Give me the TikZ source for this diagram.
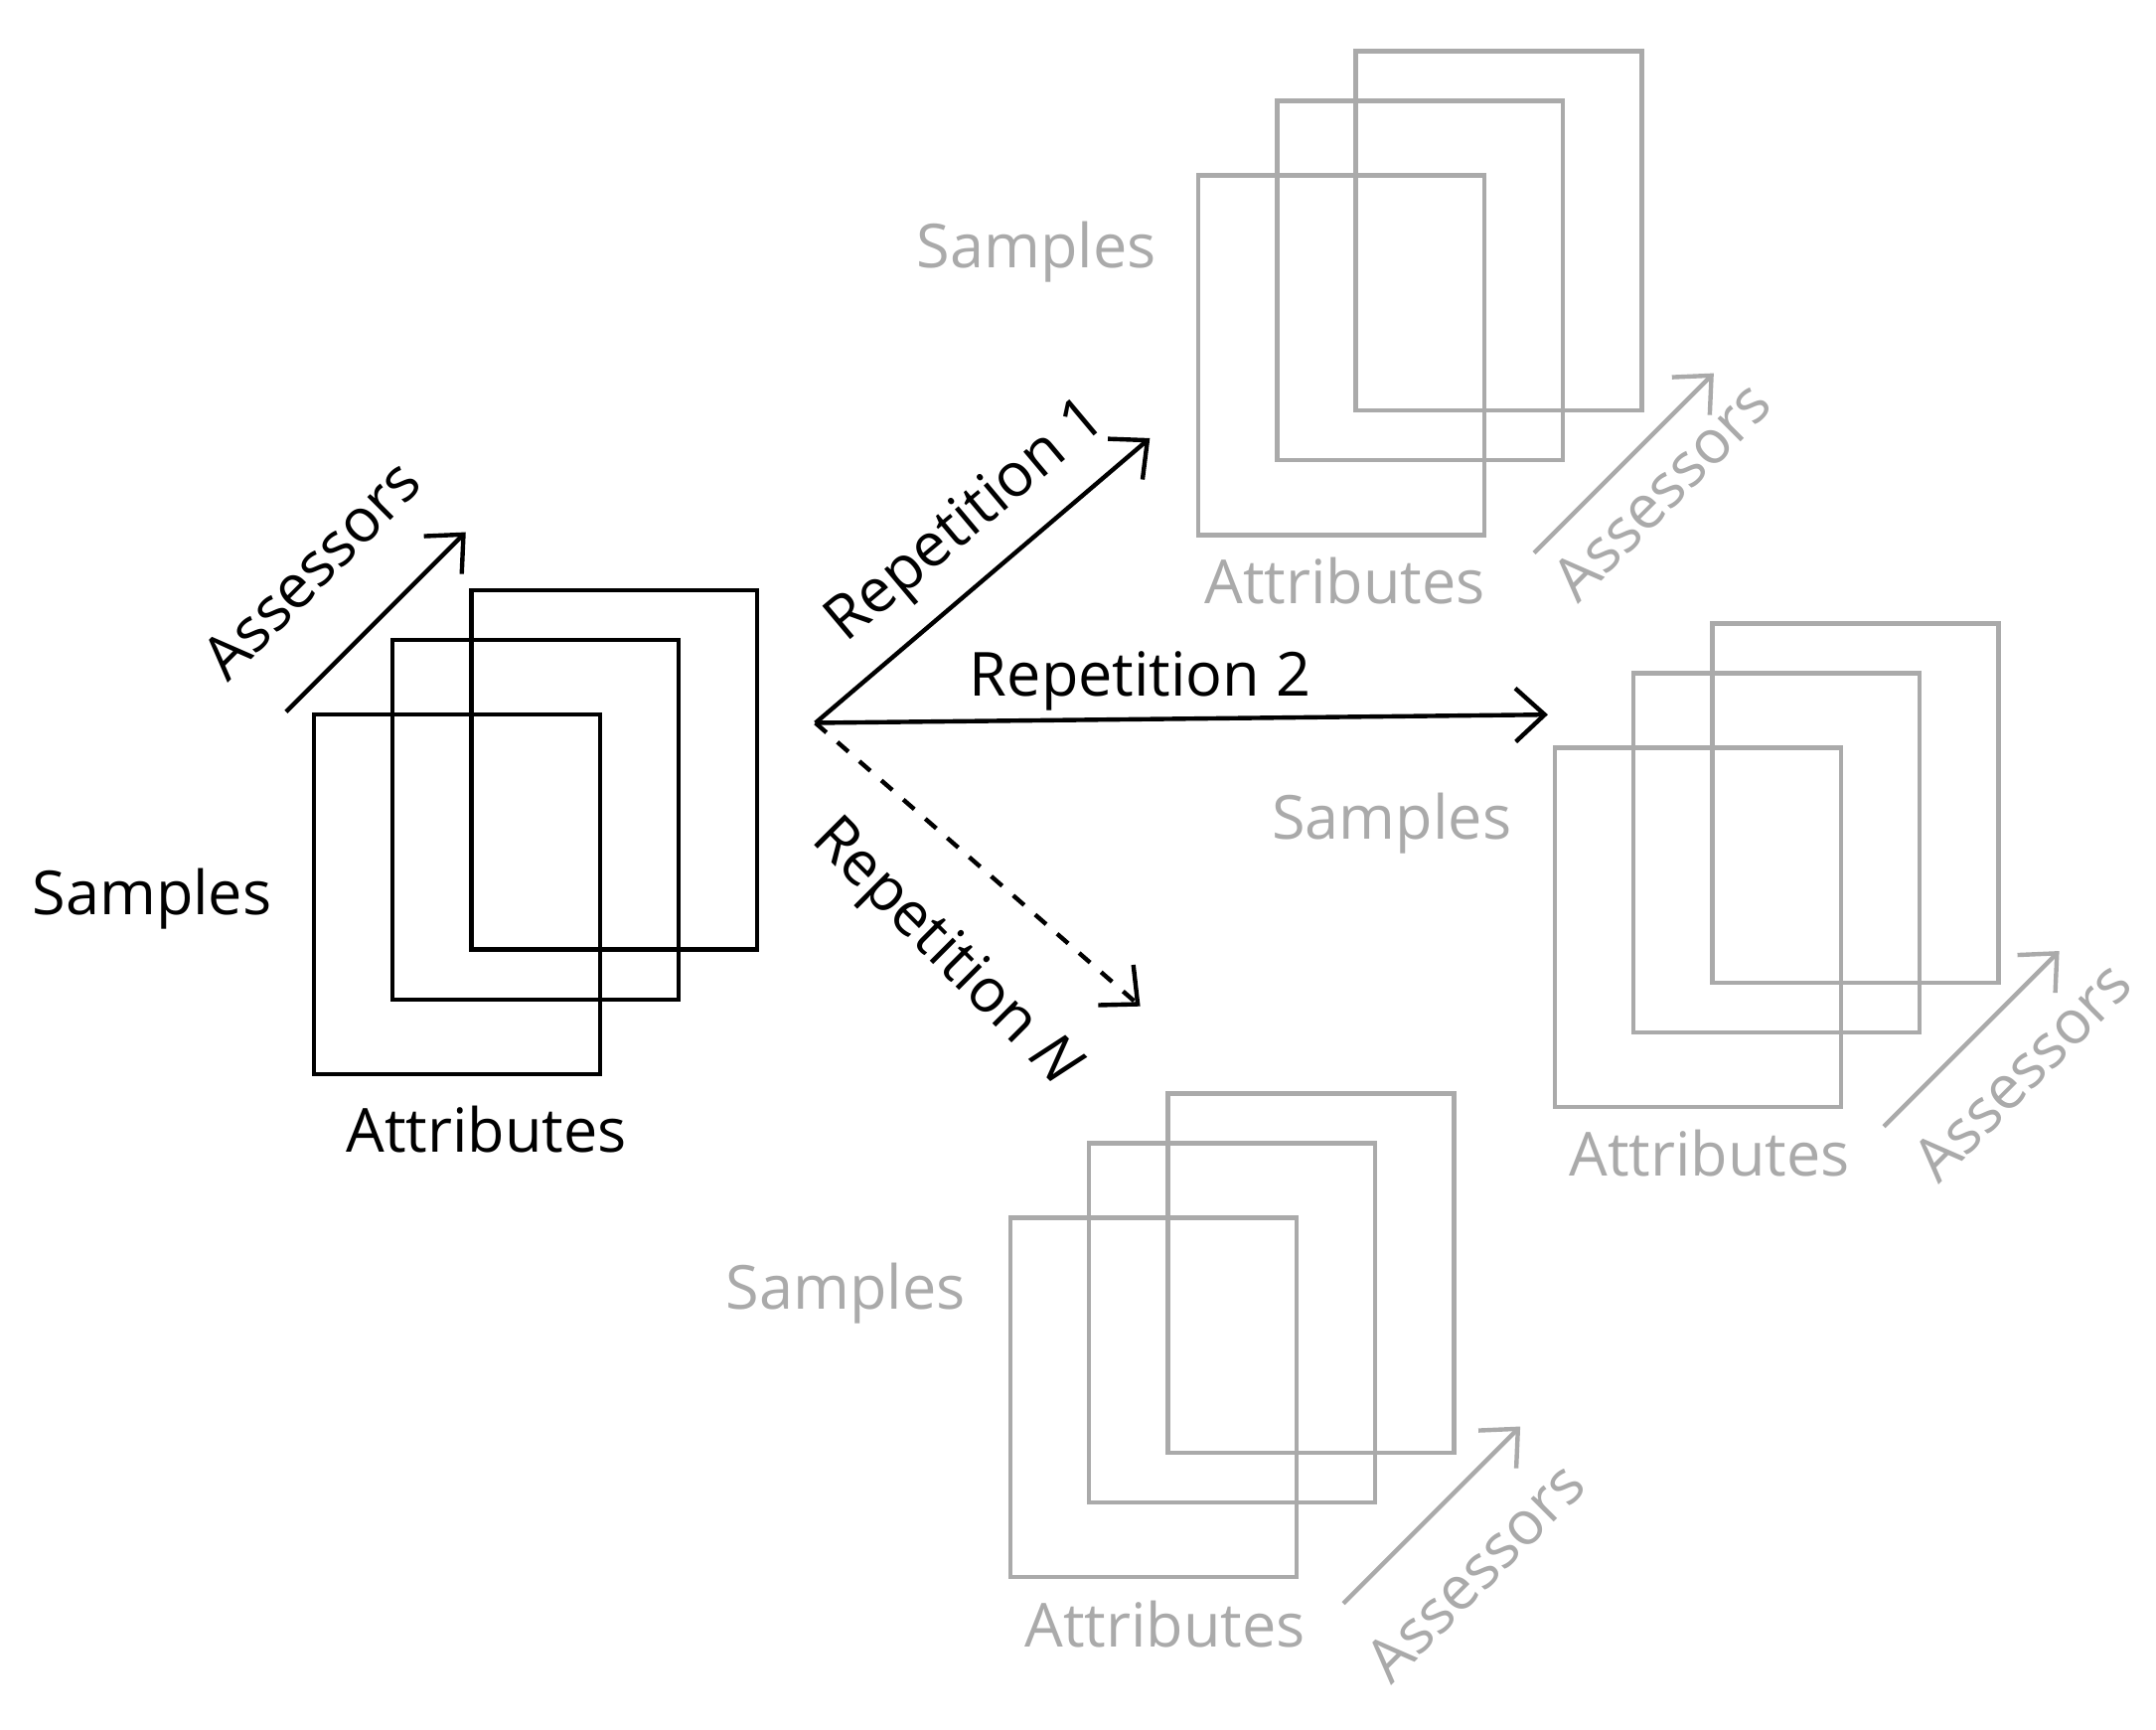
\documentclass[tikz,border=0pt]{standalone}
\usepackage{fontspec}
\setmainfont{Open Sans}
\usetikzlibrary{positioning,arrows.meta}
\tikzset{
  lbl/.style={font=\fontsize{12.5}{15}\selectfont, inner sep=1pt},
  con/.style={-{Straight Barb[length=6pt,width=11pt]}, line width=0.9pt},
  sheet/.style={line width=0.9pt},
}
% one stack of three sheets; #1 name, (#2,#3) top left corner of front sheet, #4 colour
\newcommand{\sheetstack}[4]{%
  \foreach \dx/\dy/\k in {114/-90/c, 57/-54/b, 0/0/a}
    \draw [sheet, #4] (#2+\dx, #3+\dy) rectangle ++(207,260)
      coordinate (#1\k);
}
\begin{document}
\begin{tikzpicture}[x=0.01cm, y=-0.01cm]
\useasboundingbox (0,0) rectangle (1560,1251);
\definecolor{gr}{RGB}{170,170,170}
% source
\sheetstack{src}{227}{517}{black}
\node [lbl] (srcatt) at (352,817) {Attributes};
\node [lbl] (srcsam) at (110,650) {Samples};
\coordinate (srcas1) at (207,515); \coordinate (srcas2) at (337,385);
\draw [con] (srcas1) -- (srcas2);
\node [lbl, rotate=45] (srcasl) at (225,412) {Assessors};
% repetitions
\sheetstack{ra}{867}{127}{gr}
\node [lbl, gr] (raatt) at (973,420) {Attributes};
\node [lbl, gr] (rasam) at (750,182) {Samples};
\coordinate (raas1) at (1110,400); \coordinate (raas2) at (1240,270);
\draw [con, gr] (raas1) -- (raas2);
\node [lbl, gr, rotate=45] (raasl) at (1202,355) {Assessors};
\sheetstack{rb}{1125}{541}{gr}
\node [lbl, gr] (rbatt) at (1237,834) {Attributes};
\node [lbl, gr] (rbsam) at (1007,596) {Samples};
\coordinate (rbas1) at (1363,815); \coordinate (rbas2) at (1490,688);
\draw [con, gr] (rbas1) -- (rbas2);
\node [lbl, gr, rotate=45] (rbasl) at (1463,775) {Assessors};
\sheetstack{rn}{731}{881}{gr}
\node [lbl, gr] (rnatt) at (843,1175) {Attributes};
\node [lbl, gr] (rnsam) at (612,936) {Samples};
\coordinate (rnas1) at (972,1160); \coordinate (rnas2) at (1100,1032);
\draw [con, gr] (rnas1) -- (rnas2);
\node [lbl, gr, rotate=45] (rnasl) at (1067,1137) {Assessors};
% repetition arrows
\coordinate (hub) at (590,523);
\coordinate (toa) at (832,317);
\coordinate (tob) at (1120,517);
\coordinate (ton) at (825,728);
\draw [con] (hub) -- (toa);
\draw [con] (hub) -- (tob);
\draw [con, dashed] (hub) -- (ton);
\node [lbl, rotate=40] (repa) at (700,378) {Repetition 1};
\node [lbl] (repb) at (825,493) {Repetition 2};
\node [lbl, rotate=-45] (repn) at (683,690) {Repetition \textit{N}};
\end{tikzpicture}
\end{document}
